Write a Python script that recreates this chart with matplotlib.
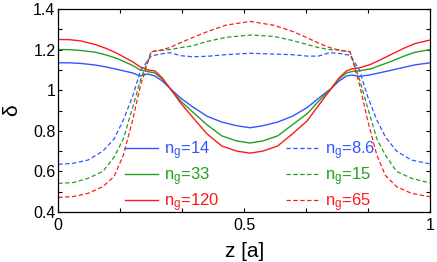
import numpy as np
import matplotlib
matplotlib.use("Agg")
import matplotlib.pyplot as plt
from matplotlib.ticker import MultipleLocator, FuncFormatter

plt.rcParams["font.family"] = ["Liberation Sans", "DejaVu Sans"]
plt.rcParams["mathtext.fontset"] = "custom"
plt.rcParams["mathtext.rm"] = "Liberation Sans"

# solid curves (n_g = 14, 33, 120)
z_solid = [0, 0.03, 0.06, 0.1, 0.13, 0.16, 0.2, 0.22, 0.24, 0.26, 0.28, 0.30, 0.33,
           0.36, 0.40, 0.44, 0.48, 0.516, 0.55, 0.59, 0.63, 0.67, 0.70, 0.735,
           0.755, 0.775, 0.79, 0.81, 0.84, 0.87, 0.9, 0.93, 0.96, 1.0]
d_14 = [1.135, 1.135, 1.132, 1.124, 1.114, 1.102, 1.085, 1.070, 1.080, 1.070, 1.045,
        1.010, 0.960, 0.920, 0.872, 0.843, 0.825, 0.815, 0.825, 0.843, 0.872, 0.915,
        0.960, 1.010, 1.045, 1.070, 1.075, 1.068, 1.076, 1.088, 1.100, 1.113, 1.125,
        1.135]
d_33 = [1.200, 1.200, 1.196, 1.187, 1.173, 1.155, 1.122, 1.100, 1.092, 1.085, 1.055,
        1.010, 0.945, 0.895, 0.830, 0.775, 0.750, 0.740, 0.750, 0.775, 0.830, 0.885,
        0.945, 1.010, 1.055, 1.085, 1.092, 1.096, 1.105, 1.125, 1.145, 1.168, 1.187,
        1.200]
d_120 = [1.250, 1.249, 1.243, 1.225, 1.205, 1.180, 1.140, 1.115, 1.100, 1.095, 1.060,
         1.010, 0.935, 0.870, 0.785, 0.725, 0.700, 0.690, 0.700, 0.725, 0.785, 0.850,
         0.925, 1.010, 1.060, 1.095, 1.105, 1.110, 1.127, 1.153, 1.180, 1.207, 1.230,
         1.247]

# dashed curves (n_g = 8.6, 15, 65)
z_dash = [0, 0.04, 0.08, 0.12, 0.15, 0.175, 0.2, 0.222, 0.25, 0.27, 0.30, 0.33, 0.36,
          0.40, 0.45, 0.516, 0.58, 0.63, 0.67, 0.70, 0.73, 0.76, 0.785, 0.81, 0.832,
          0.857, 0.88, 0.91, 0.95, 1.0]
d_86 = [0.635, 0.640, 0.656, 0.700, 0.760, 0.853, 0.970, 1.100, 1.168, 1.177, 1.185,
        1.170, 1.165, 1.167, 1.175, 1.182, 1.178, 1.175, 1.168, 1.168, 1.185, 1.180,
        1.172, 1.100, 0.970, 0.853, 0.770, 0.700, 0.656, 0.637]
d_15 = [0.541, 0.545, 0.566, 0.600, 0.670, 0.760, 0.915, 1.055, 1.190, 1.195, 1.200,
        1.210, 1.218, 1.240, 1.260, 1.272, 1.265, 1.245, 1.225, 1.210, 1.200, 1.198,
        1.188, 1.055, 0.915, 0.760, 0.680, 0.600, 0.566, 0.543]
d_65 = [0.472, 0.476, 0.492, 0.525, 0.575, 0.680, 0.853, 1.030, 1.190, 1.195, 1.210,
        1.235, 1.258, 1.288, 1.320, 1.339, 1.320, 1.290, 1.258, 1.232, 1.210, 1.195,
        1.190, 1.030, 0.853, 0.680, 0.580, 0.525, 0.492, 0.475]

blue = "#3355ff"
green = "#22a022"
red = "#ff1a1a"

fig = plt.figure(figsize=(4.37, 2.62), dpi=100)
ax = fig.add_axes([0.1334, 0.1908, 0.8506, 0.7748])

dash = (0, (3.5, 2))
h1, = ax.plot(z_solid, d_14, color=blue, lw=1.0, label=r"$\mathregular{n_g}$=14")
h2, = ax.plot(z_solid, d_33, color=green, lw=1.0, label=r"$\mathregular{n_g}$=33")
h3, = ax.plot(z_solid, d_120, color=red, lw=1.0, label=r"$\mathregular{n_g}$=120")
h4, = ax.plot(z_dash, d_86, color=blue, lw=0.9, ls=dash, label=r"$\mathregular{n_g}$=8.6")
h5, = ax.plot(z_dash, d_15, color=green, lw=0.9, ls=dash, label=r"$\mathregular{n_g}$=15")
h6, = ax.plot(z_dash, d_65, color=red, lw=0.9, ls=dash, label=r"$\mathregular{n_g}$=65")

ax.set_xlim(0, 1)
ax.set_ylim(0.4, 1.4)

ax.xaxis.set_major_locator(MultipleLocator(1 / 6))
ax.yaxis.set_major_locator(MultipleLocator(0.1))


def xfmt(v, pos):
    for t, s in [(0, "0"), (0.5, "0.5"), (1, "1")]:
        if abs(v - t) < 1e-6:
            return s
    return ""


def yfmt(v, pos):
    k = int(round(v * 10))
    if k % 2:
        return ""
    return "1" if k == 10 else "%.1f" % (k / 10)


ax.xaxis.set_major_formatter(FuncFormatter(xfmt))
ax.yaxis.set_major_formatter(FuncFormatter(yfmt))
ax.tick_params(direction="in", length=3, width=0.8, top=True, right=True,
               labelsize=11.5)
ax.tick_params(axis="x", pad=4)
ax.tick_params(axis="y", pad=2)
for s in ax.spines.values():
    s.set_linewidth(0.9)

ax.set_xlabel("z [a]", fontsize=15, labelpad=7)
ax.set_ylabel("δ", fontsize=15, labelpad=9)

leg_kw = dict(frameon=False, labelcolor="linecolor", fontsize=12,
              handlelength=2.0, handletextpad=0.35, labelspacing=0.2,
              borderpad=0, borderaxespad=0, loc="center left")
leg1 = ax.legend(handles=[h1, h2, h3], bbox_to_anchor=(0.179, 0.175), **leg_kw)
ax.add_artist(leg1)
ax.legend(handles=[h4, h5, h6], bbox_to_anchor=(0.6126, 0.175), **leg_kw)

fig.savefig("out.png", dpi=100)
